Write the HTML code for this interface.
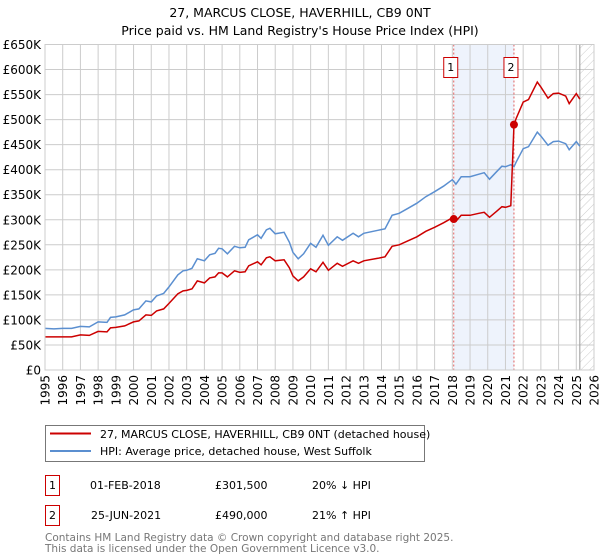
<!DOCTYPE html>
<html><head><meta charset="utf-8"><style>
body{margin:0;background:#fff;width:600px;height:560px;overflow:hidden;font-family:"DejaVu Sans","Liberation Sans",sans-serif}
svg{display:block}
</style></head><body>
<svg id="chart" width="600" height="560" xmlns="http://www.w3.org/2000/svg" font-family="DejaVu Sans, Liberation Sans, sans-serif">
<defs><pattern id="hatch" width="6" height="6" patternUnits="userSpaceOnUse" patternTransform="rotate(45)"><line x1="0" y1="0" x2="0" y2="6" stroke="#ccc" stroke-width="1"/></pattern></defs>
<text x="300" y="17" text-anchor="middle" font-size="12.5" fill="#000">27, MARCUS CLOSE, HAVERHILL, CB9 0NT</text>
<text x="300" y="35" text-anchor="middle" font-size="12.5" fill="#000">Price paid vs. HM Land Registry's House Price Index (HPI)</text>
<g id="plot"></g>
<g>
<rect x="45.5" y="425.5" width="379" height="36" fill="#fff" stroke="#777"/>
<line x1="50" y1="433.5" x2="91" y2="433.5" stroke="#cc0000" stroke-width="2"/>
<text x="100" y="438" font-size="11">27, MARCUS CLOSE, HAVERHILL, CB9 0NT (detached house)</text>
<line x1="50" y1="451" x2="91" y2="451" stroke="#5b8fd0" stroke-width="2"/>
<text x="100" y="455" font-size="11">HPI: Average price, detached house, West Suffolk</text>
</g>
<g font-size="11">
<rect x="45.5" y="475.5" width="14" height="20" fill="#fff" stroke="#cc0000"/>
<text x="52.5" y="489" text-anchor="middle">1</text>
<text x="90" y="489">01-FEB-2018</text><text x="215" y="489">£301,500</text><text x="312" y="489">20% ↓ HPI</text>
<rect x="45.5" y="505.5" width="14" height="20" fill="#fff" stroke="#cc0000"/>
<text x="52.5" y="519" text-anchor="middle">2</text>
<text x="91" y="519">25-JUN-2021</text><text x="215" y="519">£490,000</text><text x="312" y="519">21% ↑ HPI</text>
</g>
<text x="45" y="541" font-size="10.5" fill="#777">Contains HM Land Registry data © Crown copyright and database right 2025.</text>
<text x="45" y="552" font-size="10.5" fill="#777">This data is licensed under the Open Government Licence v3.0.</text>
</svg>
<script>
const years=[1995,1995.5,1996,1996.5,1997,1997.5,1998,1998.5,1998.7,1999,1999.5,2000,2000.3,2000.7,2001,2001.3,2001.7,2002,2002.5,2002.8,2003,2003.3,2003.6,2004,2004.3,2004.6,2004.8,2005,2005.3,2005.7,2006,2006.3,2006.5,2007,2007.2,2007.5,2007.7,2008,2008.5,2008.8,2009,2009.3,2009.6,2010,2010.3,2010.7,2011,2011.5,2011.8,2012.4,2012.7,2013,2013.8,2014.2,2014.6,2015,2015.5,2016,2016.5,2017,2017.5,2018,2018.08,2018.2,2018.5,2019,2019.5,2019.8,2020.1,2020.5,2020.8,2021,2021.3,2021.48,2021.6,2022,2022.3,2022.8,2023,2023.4,2023.7,2024,2024.4,2024.6,2025,2025.2];
const hpi=[83,82,83,83,87,86,96,95,105,106,110,120,122,138,136,148,153,166,190,198,199,203,222,218,230,233,243,242,232,247,244,245,260,270,263,280,283,272,275,255,235,222,232,253,245,269,249,266,259,273,266,273,279,282,309,313,323,333,346,356,367,380,377,371,386,386,391,394,381,396,407,406,410,406,415,442,446,475,467,449,456,457,452,440,456,447];
const paid=[66,66,66,66,70,69,77,76,84,85,88,96,98,110,109,118,122,133,152,158,159,162,178,174,184,186,194,194,186,198,195,196,208,216,210,224,226,218,220,204,188,178,186,202,196,215,199,213,207,218,213,218,223,226,247,250,258,266,277,285,294,304,301.5,297,309,309,313,315,305,317,326,325,328,490,502,535,540,575,565,543,552,553,547,532,552,541];
const saleYears=[2018.08,2021.48];
const salePrices=[301.5,490];
const saleLabels=["1","2"];
const yTicks=[0,50,100,150,200,250,300,350,400,450,500,550,600,650];
const yTickLabels=["£0","£50K","£100K","£150K","£200K","£250K","£300K","£350K","£400K","£450K","£500K","£550K","£600K","£650K"];
const xTicks=[1995,1996,1997,1998,1999,2000,2001,2002,2003,2004,2005,2006,2007,2008,2009,2010,2011,2012,2013,2014,2015,2016,2017,2018,2019,2020,2021,2022,2023,2024,2025,2026];
const dataEnd=2025.2;

const L=45,R=594,T=44.5,B=370,X0=1995,X1=2026,YMAX=650;
const sx=v=>L+(v-X0)/(X1-X0)*(R-L);
const sy=v=>B-v/YMAX*(B-T);
const NS="http://www.w3.org/2000/svg";
const g=document.getElementById('plot');
function mk(tag,attrs,parent){const e=document.createElementNS(NS,tag);for(const k in attrs)e.setAttribute(k,attrs[k]);(parent||g).appendChild(e);return e;}
const band=mk('rect',{x:sx(saleYears[0]),y:T,width:sx(saleYears[1])-sx(saleYears[0]),height:B-T,fill:'#eef3fc'});


const hatch=mk('rect',{x:sx(dataEnd),y:T,width:R-sx(dataEnd),height:B-T,fill:'url(#hatch)'});


yTicks.forEach((v,i)=>{
 const ln=mk('line',{x1:L,x2:R,y1:sy(v),y2:sy(v),stroke:'#ccc','stroke-width':1});
 
 
 const t=mk('text',{x:L-4,y:sy(v)+4.5,'text-anchor':'end','font-size':'12',fill:'#000'});
 
 
 t.textContent=yTickLabels[i];
});
xTicks.forEach(v=>{
 const ln=mk('line',{x1:sx(v),x2:sx(v),y1:T,y2:B,stroke:'#ccc','stroke-width':1});
 
 
 const t=mk('text',{x:0,y:0,'text-anchor':'end','font-size':'12',fill:'#000',transform:`translate(${sx(v)+4.5},${B+5}) rotate(-90)`});
 
 
 t.textContent=v;
});
const endLine=mk('line',{x1:sx(dataEnd),x2:sx(dataEnd),y1:T,y2:B,stroke:'#999','stroke-width':1});


saleYears.forEach((yr,i)=>{
 const ln=mk('line',{x1:sx(yr),x2:sx(yr),y1:T,y2:B,stroke:'#e06060','stroke-width':1,'stroke-dasharray':'2,2'});
 
 
 const bx=mk('rect',{x:sx(yr)-10,y:57.5,width:14,height:20,fill:'#fff',stroke:'#cc0000'});
 
 
 const t=mk('text',{x:sx(yr)-3,y:71,'text-anchor':'middle','font-size':'11'});
 
 
 t.textContent=saleLabels[i];
});
function path(vals){return vals.map((v,i)=>(i?'L':'M')+sx(years[i]).toFixed(1)+','+sy(v).toFixed(1)).join('');}
const hp=mk('path',{d:path(hpi),fill:'none',stroke:'#5b8fd0','stroke-width':1.5});


const pp=mk('path',{d:path(paid),fill:'none',stroke:'#cc0000','stroke-width':1.5});


saleYears.forEach((yr,i)=>{
 const c=mk('circle',{cx:sx(yr),cy:sy(salePrices[i]),r:4,fill:'#cc0000'});
 
 
});
const frame=mk('rect',{x:L,y:T,width:R-L,height:B-T,fill:'none',stroke:'#ccc'});


</script>
</body></html>
